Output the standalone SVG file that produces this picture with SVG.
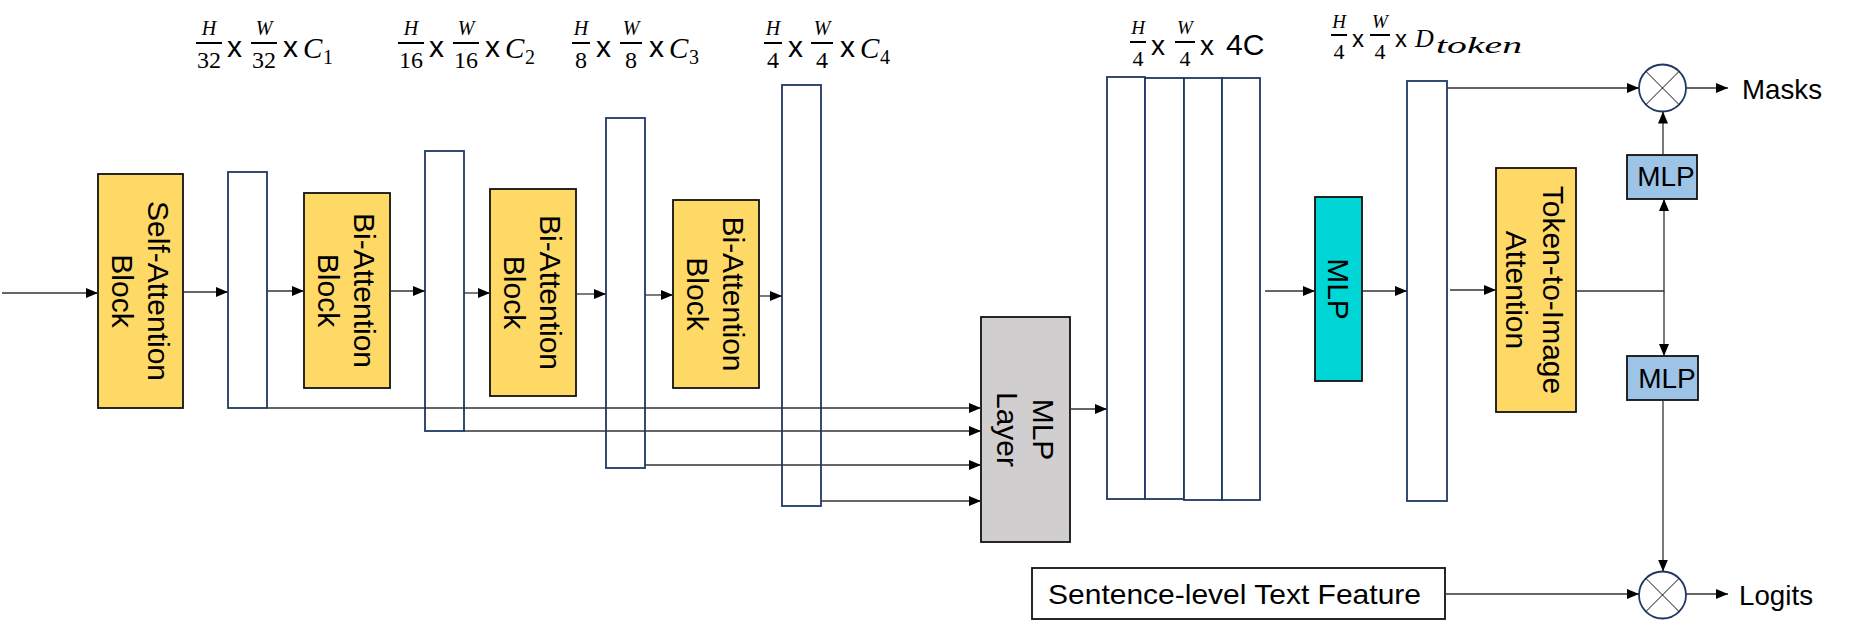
<svg xmlns="http://www.w3.org/2000/svg" width="1858" height="631" viewBox="0 0 1858 631">
<style>
.yel{fill:#FFD966;stroke:#111;stroke-width:1.8}
.fm{fill:#fff;stroke:#1F3864;stroke-width:1.8}
.gry{fill:#D0CECE;stroke:#111;stroke-width:1.8}
.cyn{fill:#00D6D6;stroke:#111;stroke-width:1.8}
.blu{fill:#9DC3E6;stroke:#111;stroke-width:1.8}
.box{fill:#fff;stroke:#111;stroke-width:1.8}
.circ{fill:#fff;stroke:#1F3864;stroke-width:1.8}
.xl{stroke:#111;stroke-width:1}
.lbl{font-family:"Liberation Sans",Arial,sans-serif;font-size:28px;fill:#000}
.rt{font-family:"Liberation Sans",Arial,sans-serif;font-size:30px;fill:#000;text-anchor:middle}
.mi{font-family:"Liberation Serif","Times New Roman",serif;font-style:italic;fill:#000}
.mn{font-family:"Liberation Serif","Times New Roman",serif;fill:#000;text-anchor:middle}
.mx{font-family:"Liberation Sans",Arial,sans-serif;fill:#000}
.bar{stroke:#000;stroke-width:2}
.con path{fill:none;stroke:#333;stroke-width:1.3}
</style>
<defs>
<marker id="ah" markerUnits="userSpaceOnUse" markerWidth="12" markerHeight="10" refX="12" refY="5" orient="auto">
<path d="M0,0 L12,5 L0,10 Z" fill="#000"/>
</marker>
</defs>

<!-- dimension labels -->
<g id="label-c1">
<text class="mi" x="209" y="35" font-size="20" text-anchor="middle">H</text>
<line class="bar" x1="196" y1="43" x2="222" y2="43"/>
<text class="mn" x="209" y="68" font-size="24">32</text>
<text class="mx" x="227" y="57" font-size="30">x</text>
<text class="mi" x="264" y="35" font-size="20" text-anchor="middle">W</text>
<line class="bar" x1="251" y1="43" x2="277" y2="43"/>
<text class="mn" x="264" y="68" font-size="24">32</text>
<text class="mx" x="283" y="57" font-size="30">x</text>
<text class="mi" x="303" y="58" font-size="29">C</text>
<text class="mn" x="328" y="64" font-size="20">1</text>
</g>
<g id="label-c2">
<text class="mi" x="411" y="35" font-size="20" text-anchor="middle">H</text>
<line class="bar" x1="398" y1="43" x2="424" y2="43"/>
<text class="mn" x="411" y="68" font-size="24">16</text>
<text class="mx" x="429" y="57" font-size="30">x</text>
<text class="mi" x="466" y="35" font-size="20" text-anchor="middle">W</text>
<line class="bar" x1="453" y1="43" x2="479" y2="43"/>
<text class="mn" x="466" y="68" font-size="24">16</text>
<text class="mx" x="485" y="57" font-size="30">x</text>
<text class="mi" x="505" y="58" font-size="29">C</text>
<text class="mn" x="530" y="64" font-size="20">2</text>
</g>
<g id="label-c3">
<text class="mi" x="581" y="35" font-size="20" text-anchor="middle">H</text>
<line class="bar" x1="572" y1="43" x2="590" y2="43"/>
<text class="mn" x="581" y="68" font-size="24">8</text>
<text class="mx" x="596" y="57" font-size="30">x</text>
<text class="mi" x="631" y="35" font-size="20" text-anchor="middle">W</text>
<line class="bar" x1="620" y1="43" x2="642" y2="43"/>
<text class="mn" x="631" y="68" font-size="24">8</text>
<text class="mx" x="649" y="57" font-size="30">x</text>
<text class="mi" x="669" y="58" font-size="29">C</text>
<text class="mn" x="694" y="64" font-size="20">3</text>
</g>
<g id="label-c4">
<text class="mi" x="773" y="35" font-size="20" text-anchor="middle">H</text>
<line class="bar" x1="764" y1="43" x2="782" y2="43"/>
<text class="mn" x="773" y="68" font-size="24">4</text>
<text class="mx" x="788" y="57" font-size="30">x</text>
<text class="mi" x="822" y="35" font-size="20" text-anchor="middle">W</text>
<line class="bar" x1="811" y1="43" x2="833" y2="43"/>
<text class="mn" x="822" y="68" font-size="24">4</text>
<text class="mx" x="840" y="57" font-size="30">x</text>
<text class="mi" x="860" y="58" font-size="29">C</text>
<text class="mn" x="885" y="64" font-size="20">4</text>
</g>
<g id="label-4c">
<text class="mi" x="1138" y="34" font-size="19" text-anchor="middle">H</text>
<line class="bar" x1="1130" y1="42" x2="1146" y2="42"/>
<text class="mn" x="1138" y="66" font-size="22">4</text>
<text class="mx" x="1151" y="55" font-size="28">x</text>
<text class="mi" x="1185" y="34" font-size="19" text-anchor="middle">W</text>
<line class="bar" x1="1175" y1="42" x2="1195" y2="42"/>
<text class="mn" x="1185" y="66" font-size="22">4</text>
<text class="mx" x="1200" y="55" font-size="28">x</text>
<text class="mx" x="1226" y="55" font-size="30">4C</text>
</g>
<g id="label-dtoken">
<text class="mi" x="1339" y="28" font-size="19" text-anchor="middle">H</text>
<line class="bar" x1="1331" y1="35" x2="1347" y2="35"/>
<text class="mn" x="1339" y="59" font-size="22">4</text>
<text class="mx" x="1352" y="47" font-size="24">x</text>
<text class="mi" x="1380" y="28" font-size="19" text-anchor="middle">W</text>
<line class="bar" x1="1370" y1="35" x2="1390" y2="35"/>
<text class="mn" x="1380" y="59" font-size="22">4</text>
<text class="mx" x="1395" y="47" font-size="24">x</text>
<text class="mi" x="1415" y="47" font-size="26">D</text>
<text class="mi" x="1436" y="53" font-size="23" textLength="86" lengthAdjust="spacingAndGlyphs">token</text>
</g>

<!-- nodes -->
<g id="self-attention">
<rect class="yel" x="98" y="174" width="85" height="234"/>
<text class="rt" transform="translate(140.5,291) rotate(90)"><tspan x="0" y="-7">Self-Attention</tspan><tspan x="0" y="29">Block</tspan></text>
</g>
<g id="feat1"><rect class="fm" x="228" y="172" width="39" height="236"/></g>
<g id="bi-attention-1">
<rect class="yel" x="304" y="193" width="86" height="195"/>
<text class="rt" transform="translate(347,290.5) rotate(90)"><tspan x="0" y="-7">Bi-Attention</tspan><tspan x="0" y="29">Block</tspan></text>
</g>
<g id="feat2"><rect class="fm" x="425" y="151" width="39" height="280"/></g>
<g id="bi-attention-2">
<rect class="yel" x="490" y="189" width="86" height="207"/>
<text class="rt" transform="translate(533,292.5) rotate(90)"><tspan x="0" y="-7">Bi-Attention</tspan><tspan x="0" y="29">Block</tspan></text>
</g>
<g id="feat3"><rect class="fm" x="606" y="118" width="39" height="350"/></g>
<g id="bi-attention-3">
<rect class="yel" x="673" y="200" width="86" height="188"/>
<text class="rt" transform="translate(716,294) rotate(90)"><tspan x="0" y="-7">Bi-Attention</tspan><tspan x="0" y="29">Block</tspan></text>
</g>
<g id="feat4"><rect class="fm" x="782" y="85" width="39" height="421"/></g>
<g id="mlp-layer">
<rect class="gry" x="981" y="317" width="89" height="225"/>
<text class="rt" transform="translate(1025.5,429.5) rotate(90)"><tspan x="0" y="-7.5">MLP</tspan><tspan x="0" y="28.5">Layer</tspan></text>
</g>
<g id="feat-4c">
<rect class="fm" x="1107" y="77" width="38" height="422"/>
<rect class="fm" x="1145" y="78" width="39" height="421"/>
<rect class="fm" x="1184" y="78" width="38" height="422"/>
<rect class="fm" x="1222" y="78" width="38" height="422"/>
</g>
<g id="mlp-cyan">
<rect class="cyn" x="1315" y="197" width="47" height="184"/>
<text class="rt" transform="translate(1338.5,289) rotate(90)" y="11">MLP</text>
</g>
<g id="feat-dtoken"><rect class="fm" x="1407" y="81" width="40" height="420"/></g>
<g id="token-to-image">
<rect class="yel" x="1496" y="168" width="80" height="244"/>
<text class="rt" transform="translate(1536,290) rotate(90)"><tspan x="0" y="-6.5">Token-to-Image</tspan><tspan x="0" y="30">Attention</tspan></text>
</g>
<g id="mlp-top">
<rect class="blu" x="1627" y="155" width="70" height="44"/>
<text class="lbl" x="1666" y="186" font-size="24" text-anchor="middle">MLP</text>
</g>
<g id="mlp-bottom">
<rect class="blu" x="1627" y="356" width="71" height="44"/>
<text class="lbl" x="1667" y="388" font-size="24" text-anchor="middle">MLP</text>
</g>
<g id="mult-top">
<circle class="circ" cx="1662.5" cy="88" r="23.5"/>
<line class="xl" x1="1645.9" y1="71.4" x2="1679.1" y2="104.6"/>
<line class="xl" x1="1679.1" y1="71.4" x2="1645.9" y2="104.6"/>
</g>
<g id="mult-bottom">
<circle class="circ" cx="1662.5" cy="595" r="23.5"/>
<line class="xl" x1="1645.9" y1="578.4" x2="1679.1" y2="611.6"/>
<line class="xl" x1="1679.1" y1="578.4" x2="1645.9" y2="611.6"/>
</g>
<g id="sentence-feature">
<rect class="box" x="1032" y="568" width="413" height="51"/>
<text class="lbl" x="1048" y="604" font-size="31" textLength="373" lengthAdjust="spacingAndGlyphs">Sentence-level  Text Feature</text>
</g>
<g id="masks"><text class="lbl" x="1742" y="99" font-size="33" textLength="80" lengthAdjust="spacingAndGlyphs">Masks</text></g>
<g id="logits"><text class="lbl" x="1739" y="605" font-size="28" textLength="74" lengthAdjust="spacingAndGlyphs">Logits</text></g>

<!-- connectors -->
<g id="connectors" class="con">
<path d="M2,293 H98" marker-end="url(#ah)"/>
<path d="M183,292 H228" marker-end="url(#ah)"/>
<path d="M267,291 H304" marker-end="url(#ah)"/>
<path d="M390,291 H425" marker-end="url(#ah)"/>
<path d="M464,293 H490" marker-end="url(#ah)"/>
<path d="M576,294 H606" marker-end="url(#ah)"/>
<path d="M645,295 H673" marker-end="url(#ah)"/>
<path d="M759,296 H782" marker-end="url(#ah)"/>
<path d="M267,408 H981" marker-end="url(#ah)"/>
<path d="M464,431 H981" marker-end="url(#ah)"/>
<path d="M645,465 H981" marker-end="url(#ah)"/>
<path d="M821,501 H981" marker-end="url(#ah)"/>
<path d="M1070,409 H1107" marker-end="url(#ah)"/>
<path d="M1265,291 H1315" marker-end="url(#ah)"/>
<path d="M1362,291 H1407" marker-end="url(#ah)"/>
<path d="M1450,290 H1496" marker-end="url(#ah)"/>
<path d="M1576,291 H1664 V199" marker-end="url(#ah)"/>
<path d="M1664,291 V356" marker-end="url(#ah)"/>
<path d="M1663,155 V111.5" marker-end="url(#ah)"/>
<path d="M1447,88 H1639" marker-end="url(#ah)"/>
<path d="M1686,88 H1728" marker-end="url(#ah)"/>
<path d="M1663,400 V571.5" marker-end="url(#ah)"/>
<path d="M1445,594 H1639" marker-end="url(#ah)"/>
<path d="M1686,594 H1728" marker-end="url(#ah)"/>
</g>
</svg>
